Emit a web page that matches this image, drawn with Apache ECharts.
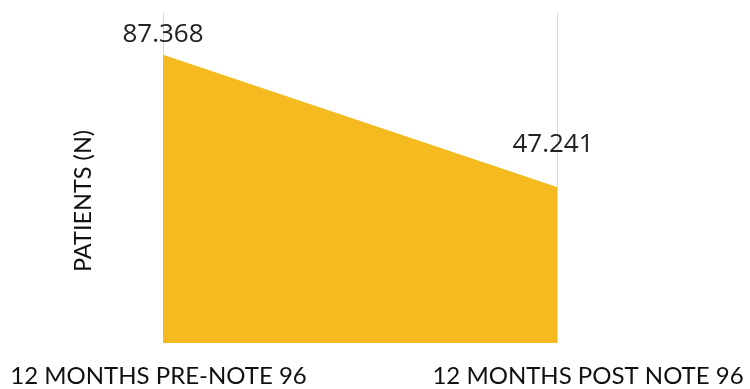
<!DOCTYPE html>
<html><head><meta charset="utf-8">
<script src="https://cdn.jsdelivr.net/npm/echarts@6/dist/echarts.min.js"></script>
<style>html,body{margin:0;padding:0;background:#fff}#c{width:750px;height:389px}</style>
</head><body><div id="c"></div>
<script>
const categories = ['12 MONTHS PRE-NOTE 96', '12 MONTHS POST NOTE 96'];
const patients = [87.368, 47.241];
const valueLabels = ['87.368', '47.241'];
const yAxisName = 'PATIENTS (N)';

const labelPads = [[0, 9, 0, 0], [0, 0, 0, 62]];
const labelOffsets = [[0, 3], [-4, -19]];

const chart = echarts.init(document.getElementById('c'));
chart.setOption({
  animation: false,
  grid: { left: 163, right: 193, top: 13, bottom: 46, outerBoundsMode: 'none', containLabel: false },
  xAxis: {
    type: 'category',
    boundaryGap: false,
    data: categories.map((c, i) => ({ value: c, textStyle: { padding: labelPads[i] } })),
    axisLine: { show: false },
    axisTick: { show: false },
    splitLine: { show: true, lineStyle: { color: '#d9d9d9', width: 1 } },
    axisLabel: { color: '#111', fontFamily: 'Lato', fontSize: 24, margin: 21, interval: 0 }
  },
  yAxis: {
    type: 'value', min: 0, max: 100,
    axisLabel: { show: false }, axisLine: { show: false }, axisTick: { show: false },
    splitLine: { show: false },
    name: yAxisName, nameLocation: 'middle', nameGap: 68,
    nameTextStyle: { color: '#111', fontFamily: 'Lato', fontSize: 23.5, padding: [0, 46, 0, 0] }
  },
  series: [{
    type: 'line',
    data: patients.map((v, i) => ({ value: v, label: { offset: labelOffsets[i] } })),
    symbol: 'circle',
    symbolSize: 1,
    showSymbol: true,
    itemStyle: { color: 'rgba(245,186,31,0)' },
    lineStyle: { width: 0 },
    areaStyle: { color: '#F5BA1F', opacity: 1 },
    label: {
      show: true, position: 'top', distance: 10,
      formatter: p => valueLabels[p.dataIndex],
      color: '#222', fontFamily: 'Open Sans', fontSize: 26
    }
  }]
});
</script></body></html>
